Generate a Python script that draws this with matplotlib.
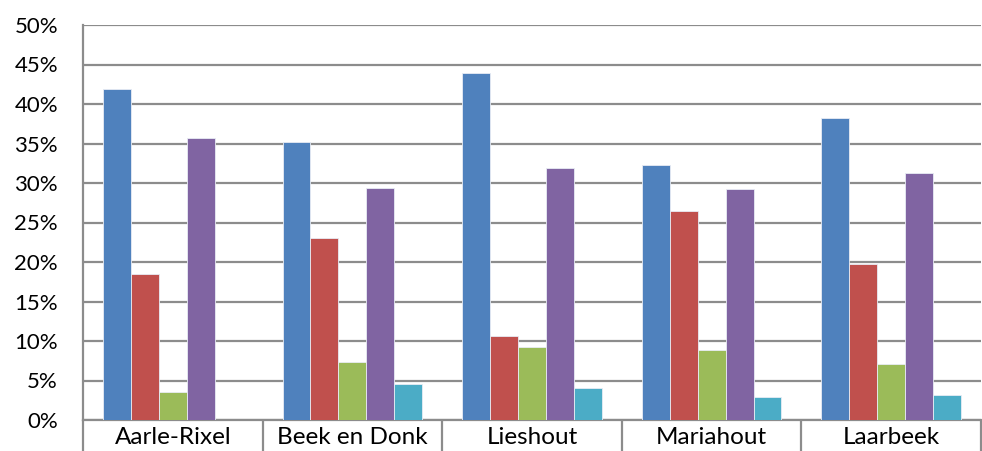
import matplotlib
matplotlib.use("Agg")
import matplotlib.pyplot as plt
import numpy as np
from matplotlib.ticker import FixedLocator, FuncFormatter

categories = ["Aarle-Rixel", "Beek en Donk", "Lieshout", "Mariahout", "Laarbeek"]
series1 = [41.9, 35.2, 43.9, 32.3, 38.2]
series2 = [18.5, 23.0, 10.6, 26.4, 19.8]
series3 = [3.6, 7.4, 9.3, 8.8, 7.1]
series4 = [35.7, 29.4, 31.9, 29.3, 31.3]
series5 = [0.0, 4.6, 4.0, 2.9, 3.2]
yticks = [0, 5, 10, 15, 20, 25, 30, 35, 40, 45, 50]

all_series = [series1, series2, series3, series4, series5]
colors = ["#4F81BD", "#C0504D", "#9BBB59", "#8064A2", "#4BACC6"]

plt.rcParams['font.family'] = ['Lato', 'DejaVu Sans']

fig = plt.figure(figsize=(9.82, 4.51), dpi=100)
ax = fig.add_axes([83/982, 31/451, 1 - 83/982 - 0.001, (420-25)/451])

n = len(categories)
bw = 0.7778 / 5
start = 0.1111
for k, (vals, c) in enumerate(zip(all_series, colors)):
    xs = np.arange(n) + start + k * bw
    ax.bar(xs, vals, width=bw, align='edge', color=c, edgecolor='#E8ECF4', linewidth=0.6, zorder=3)

ax.set_xlim(0, n)
ax.set_ylim(0, 50)
ax.yaxis.set_major_locator(FixedLocator(yticks))
ax.yaxis.set_major_formatter(FuncFormatter(lambda v, p: f"{int(v)}%"))
ax.grid(axis='y', color='#8C8C8C', linewidth=1.6, zorder=0)
ax.set_axisbelow(True)

ax.set_xticks(np.arange(n) + 0.5)
ax.set_xticklabels(categories)
ax.set_xticks(np.arange(n + 1), minor=True)
ax.tick_params(axis='x', which='major', length=0, labelsize=17.5, pad=5, colors='black')
ax.tick_params(axis='x', which='minor', length=26, width=1.6, color='#8C8C8C', direction='out')
ax.tick_params(axis='y', length=0, labelsize=16, pad=18)

for s in ['top', 'right']:
    ax.spines[s].set_visible(False)
ax.spines['left'].set_color('#8C8C8C')
ax.spines['left'].set_linewidth(1.6)
ax.spines['bottom'].set_color('#8C8C8C')
ax.spines['bottom'].set_linewidth(1.6)

fig.savefig("out.png", dpi=100)
